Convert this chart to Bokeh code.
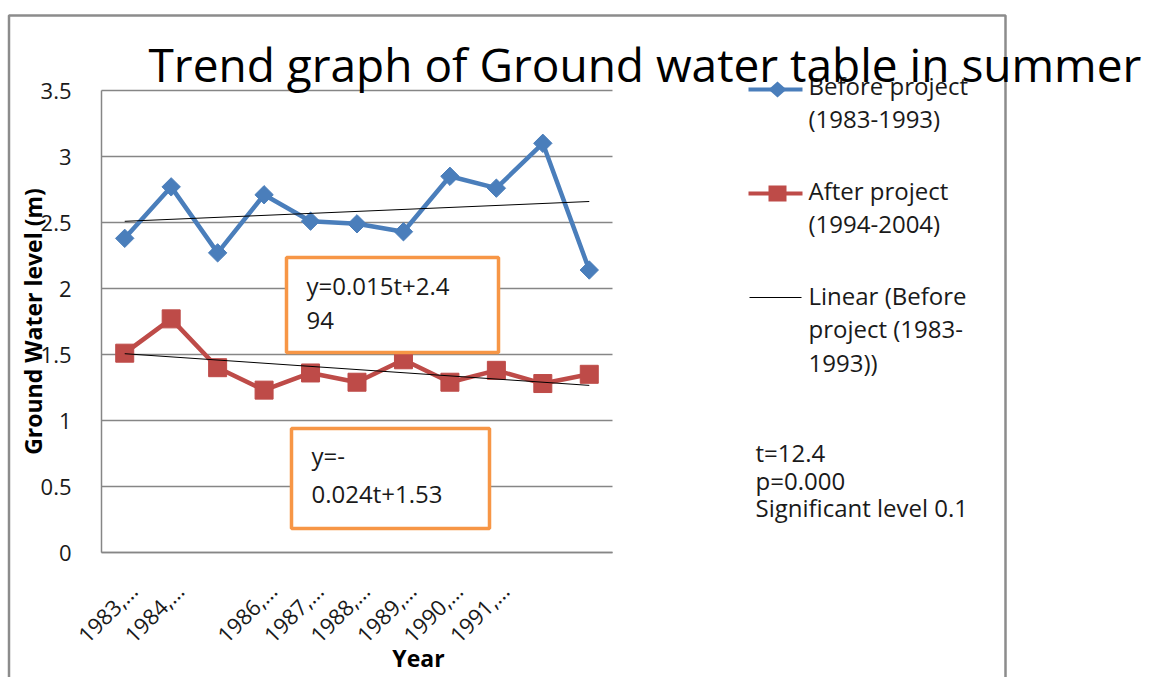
from math import pi
from bokeh.plotting import figure
from bokeh.models import (Range1d, FixedTicker, Label, BoxAnnotation, PolyAnnotation,
                          NumeralTickFormatter, LinearAxis, Grid)
from bokeh.embed import file_html
from bokeh.resources import INLINE

# ---------------- data ----------------
x_labels = ["1983,…", "1984,…", "", "1986,…", "1987,…", "1988,…",
            "1989,…", "1990,…", "1991,…", "", ""]
before_project = [2.38, 2.77, 2.27, 2.71, 2.51, 2.49, 2.43, 2.85, 2.76, 3.10, 2.14]
after_project = [1.51, 1.77, 1.40, 1.23, 1.36, 1.29, 1.46, 1.29, 1.38, 1.28, 1.35]
trend_before = [0.015, 2.494]   # slope, intercept (t = 1..11)
trend_after = [-0.024, 1.53]
y_ticks = [0, 0.5, 1, 1.5, 2, 2.5, 3, 3.5]
Y_MAX = 3.5

BLUE = "#4A7EBB"
RED = "#BE4B48"
ORANGE = "#F79646"
GRID = "#868686"
TXT = "#1a1a1a"
FONT = "Open Sans"

W, H = 1154, 677
# plot-area position on the canvas (pixels)
FL, FR, FT, FB = 101, 612, 90, 552
N = len(before_project)
LABEL_SHIFT = 0.18   # rotated category labels sit slightly right of the category centre


def dx(px):
    return -0.5 + (px - FL) * N / (FR - FL)


def dy(py):
    return (FB - py) * Y_MAX / (FB - FT)


p = figure(width=W, height=H, output_backend="svg", toolbar_location=None,
           x_range=Range1d(dx(0), dx(W)), y_range=Range1d(dy(H), dy(0)),
           x_axis_location=None, y_axis_location=None, min_border=0)
p.outline_line_color = None
p.background_fill_color = "white"
p.border_fill_color = "white"
p.xgrid.visible = False
p.ygrid.visible = False

# horizontal grid lines limited to the plot area
if "cross_bounds" in Grid.properties():
    ygrid = Grid(dimension=1, ticker=FixedTicker(ticks=y_ticks),
                 cross_bounds=(-0.5, N - 0.5),
                 grid_line_color=GRID, grid_line_width=1.5)
    p.add_layout(ygrid)
else:
    p.segment(x0=[-0.5] * len(y_ticks), x1=[N - 0.5] * len(y_ticks),
              y0=y_ticks, y1=y_ticks, line_color=GRID, line_width=1.5, level="underlay")

# axes drawn inside the canvas at fixed locations
label_ticks = [i + LABEL_SHIFT for i in range(N)]
xaxis = LinearAxis(fixed_location=0, bounds=(-0.5, N - 0.5),
                   ticker=FixedTicker(ticks=label_ticks))
xaxis.major_label_overrides = {t: lab for t, lab in zip(label_ticks, x_labels)}
xaxis.major_label_orientation = pi / 4
xaxis.major_label_standoff = 28
yaxis = LinearAxis(fixed_location=-0.5, bounds=(0, Y_MAX),
                   ticker=FixedTicker(ticks=y_ticks),
                   formatter=NumeralTickFormatter(format="0.[0]"))
yaxis.major_label_standoff = 24
for ax, fs in ((xaxis, "22px"), (yaxis, "22px")):
    ax.major_tick_line_color = None
    ax.minor_tick_line_color = None
    ax.axis_line_color = GRID
    ax.axis_line_width = 1.5
    ax.major_label_text_font = FONT
    ax.major_label_text_font_size = fs
    ax.major_label_text_color = TXT
p.add_layout(xaxis, "below")
p.add_layout(yaxis, "left")

xs = list(range(N))
p.line(xs, before_project, line_color=BLUE, line_width=4.5)
p.scatter(xs, before_project, marker="square", angle=pi / 4, size=13,
          fill_color=BLUE, line_color=BLUE)
p.line(xs, after_project, line_color=RED, line_width=4.5)
p.scatter(xs, after_project, marker="square", size=18,
          fill_color=RED, line_color=RED)

for slope, icpt in (trend_before, trend_after):
    t = [1, N]
    p.line([t[0] - 1, t[1] - 1], [slope * t[0] + icpt, slope * t[1] + icpt],
           line_color="black", line_width=1)

# equation boxes
for (l, r, tp, bt) in ((286, 498, 257, 352), (291, 489, 428, 528)):
    p.add_layout(BoxAnnotation(left=dx(l), right=dx(r), top=dy(tp), bottom=dy(bt),
                               fill_color="white", fill_alpha=1,
                               line_color=ORANGE, line_alpha=1, line_width=3.5))


def label(text, px, py, size=24, style="normal", align="left",
          baseline="alphabetic", angle=0.0, color=TXT):
    if baseline == "alphabetic":
        py = py - 0.42 * size   # compensate renderer's baseline offset
    p.add_layout(Label(x=dx(px), y=dy(py), text=text, text_font=FONT,
                       text_font_size=f"{size}px", text_font_style=style,
                       text_align=align, text_baseline=baseline,
                       angle=angle, text_color=color))


label("y=0.015t+2.4", 306, 295)
label("94", 306, 330)
label("y=-", 311, 465)
label("0.024t+1.53", 311, 503)

# outer frame of the chart object
p.add_layout(PolyAnnotation(xs=[dx(8.5), dx(8.5), dx(1005), dx(1005)],
                            ys=[dy(760), dy(15), dy(15), dy(760)],
                            fill_alpha=0, line_color="#8c8c8c", line_alpha=1,
                            line_width=2.5))

# legend symbols
p.add_layout(BoxAnnotation(left=dx(748), right=dx(802), top=dy(87), bottom=dy(91),
                           fill_color=BLUE, fill_alpha=1, line_alpha=0))
p.add_layout(PolyAnnotation(xs=[dx(768), dx(777), dx(786), dx(777)],
                            ys=[dy(89), dy(81), dy(89), dy(97)],
                            fill_color=BLUE, fill_alpha=1, line_alpha=0))
p.add_layout(BoxAnnotation(left=dx(748), right=dx(802), top=dy(191), bottom=dy(195),
                           fill_color=RED, fill_alpha=1, line_alpha=0))
p.add_layout(PolyAnnotation(xs=[dx(768), dx(786), dx(786), dx(768)],
                            ys=[dy(185), dy(185), dy(201), dy(201)],
                            fill_color=RED, fill_alpha=1, line_alpha=0))
p.add_layout(BoxAnnotation(left=dx(749), right=dx(801), top=dy(296.5), bottom=dy(297.5),
                           fill_color="black", fill_alpha=1, line_alpha=0))

label("Before project", 808, 95)
label("(1983-1993)", 808, 128)
label("After project", 808, 200)
label("(1994-2004)", 808, 233)
label("Linear (Before", 808, 305)
label("project (1983-", 808, 338)
label("1993))", 808, 372)

label("t=12.4", 755, 462)
label("p=0.000", 755, 490)
label("Significant level 0.1", 755, 517)

# titles
label("Trend graph of Ground water table in summer", 148, 83, size=46, color="black")
label("Ground Water level (m)", 32, 321, size=23, style="bold", align="center",
      baseline="middle", angle=pi / 2, color="black")
label("Year", 418, 657, size=23, style="bold", align="center",
      baseline="middle", color="black")

open("out.html", "w").write(file_html(p, INLINE))
